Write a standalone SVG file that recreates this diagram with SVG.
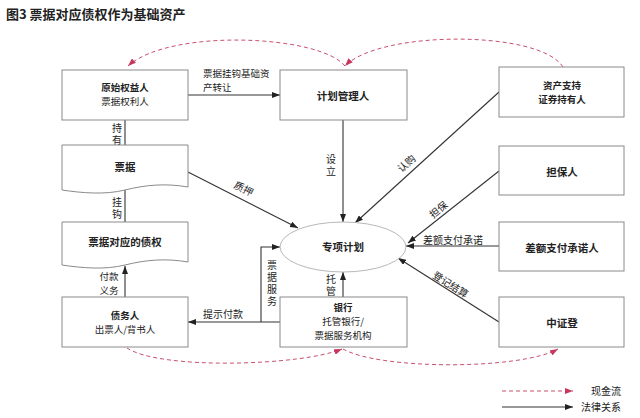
<svg xmlns="http://www.w3.org/2000/svg" width="640" height="418" viewBox="0 0 640 418">
<style>
text{font-family:"Noto Sans CJK SC","Liberation Sans",sans-serif;fill:#222;}
.t{font-size:13px;font-weight:bold;}
.b{font-size:10.5px;font-weight:bold;text-anchor:middle;}
.b2{font-size:9.5px;font-weight:bold;text-anchor:middle;}
.n{font-size:9.5px;text-anchor:middle;}
.l{font-size:10px;}
.l2{font-size:9.5px;}
.lc{font-size:10px;text-anchor:middle;dominant-baseline:central;}
.v{font-size:10px;text-anchor:middle;writing-mode:vertical-rl;letter-spacing:2px;}
.box{fill:#fff;stroke:#8a8a8a;stroke-width:1;}
.ell{fill:#fff;stroke:#b8b8b8;stroke-width:1;}
.c{fill:none;stroke:#333;stroke-width:1.1;}
.ca{fill:none;stroke:#333;stroke-width:1.1;marker-end:url(#ab);}
.d{fill:none;stroke:#c8506e;stroke-width:1;stroke-dasharray:4 3;marker-end:url(#ar);}
</style>
<defs>
<marker id="ab" markerUnits="userSpaceOnUse" markerWidth="8" markerHeight="6" refX="8" refY="3" orient="auto"><path d="M0,0 L8,3 L0,6 z" fill="#222"/></marker>
<marker id="ar" markerUnits="userSpaceOnUse" markerWidth="8" markerHeight="6" refX="8" refY="3" orient="auto"><path d="M0,0 L8,3 L0,6 z" fill="#c8385e"/></marker>
</defs>
<rect width="640" height="418" fill="#fff"/>
<text class="t" x="6" y="19">图3 票据对应债权作为基础资产</text>

<g id="connectors">
<path class="ca" d="M188,95 H280"/>
<path class="c" d="M125,120 V145"/>
<path class="c" d="M125,190 V222"/>
<path class="ca" d="M125,297 V266"/>
<path class="ca" d="M188,172 L298,228"/>
<path class="ca" d="M343,120 V222"/>
<path class="ca" d="M499,92 L355,223"/>
<path class="ca" d="M499,171 L408,243"/>
<path class="ca" d="M499,246 H406"/>
<path class="ca" d="M499,322 L398,258"/>
<path class="ca" d="M343,297 V272"/>
<path class="ca" d="M280,322 H188"/>
<path class="ca" d="M261,322 V247 H280"/>
<path class="d" d="M563,67 C540,30 380,30 345,66"/>
<path class="d" d="M345,66 C320,35 170,28 128,66"/>
<path class="d" d="M127,348 C160,370 300,366 342,349"/>
<path class="d" d="M343,349 C380,370 520,370 558,349"/>
<text class="l2" x="203" y="77">票据挂钩基础资</text>
<text class="l2" x="203" y="91">产转让</text>
<text class="v" x="117" y="135">持有</text>
<text class="v" x="117" y="209">挂钩</text>
<text class="lc" x="109" y="276" style="font-size:9.5px">付款</text>
<text class="lc" x="109" y="290" style="font-size:9.5px">义务</text>
<text class="lc" transform="rotate(27 244 188)" x="244" y="188">质押</text>
<text class="v" x="331" y="166">设立</text>
<text class="lc" transform="rotate(-42 406 163)" x="406" y="163">认购</text>
<text class="lc" transform="rotate(-39 438 209)" x="438" y="209">担保</text>
<text class="lc" x="453" y="239">差额支付承诺</text>
<text class="lc" transform="rotate(32 451 284)" x="451" y="284">登记结算</text>
<text class="v" x="331" y="286">托管</text>
<text class="v" x="272" y="284">票据服务</text>
<text class="lc" x="223" y="313">提示付款</text>
</g>

<g id="n-yuanshi"><rect class="box" x="62" y="70" width="126" height="50"/><text class="b2" x="125" y="91">原始权益人</text><text class="n" x="125" y="105">票据权利人</text></g>
<g id="n-jihua"><rect class="box" x="280" y="70" width="127" height="50"/><text class="b" x="343" y="100">计划管理人</text></g>
<g id="n-zichan"><rect class="box" x="499" y="67" width="125" height="50"/><text class="b2" x="562" y="89">资产支持</text><text class="b2" x="562" y="103">证券持有人</text></g>
<g id="n-piaoju"><path class="box" d="M62,145 H188 V187 C165,183 145,185 125,190 C105,195 82,193 62,190 Z"/><text class="b" x="125" y="171">票据</text></g>
<g id="n-zhaiquan"><path class="box" d="M62,222 H188 V262 C165,258 145,260 125,265 C105,270 82,268 62,265 Z"/><text class="b" x="125" y="246">票据对应的债权</text></g>
<g id="n-zhaiwu"><rect class="box" x="62" y="297" width="126" height="50"/><text class="b2" x="125" y="319">债务人</text><text class="n" x="125" y="333">出票人/背书人</text></g>
<g id="n-yinhang"><rect class="box" x="280" y="297" width="127" height="50"/><text class="b2" x="343" y="311">银行</text><text class="n" x="343" y="325">托管银行/</text><text class="n" x="343" y="339">票据服务机构</text></g>
<g id="n-danbao"><rect class="box" x="499" y="146" width="125" height="49"/><text class="b" x="562" y="176">担保人</text></g>
<g id="n-chae"><rect class="box" x="499" y="222" width="125" height="49"/><text class="b" x="562" y="252">差额支付承诺人</text></g>
<g id="n-zhongzhengdeng"><rect class="box" x="499" y="297" width="125" height="50"/><text class="b" x="562" y="327">中证登</text></g>
<g id="n-zhuanxiang"><ellipse class="ell" cx="343" cy="247" rx="63" ry="25"/><text class="b" x="343" y="251">专项计划</text></g>

<g id="legend">
<path class="d" d="M502,391 H573"/>
<path class="ca" d="M502,407 H573"/>
<text class="l" x="621" y="395" text-anchor="end">现金流</text>
<text class="l" x="621" y="411" text-anchor="end">法律关系</text>
</g>
</svg>
